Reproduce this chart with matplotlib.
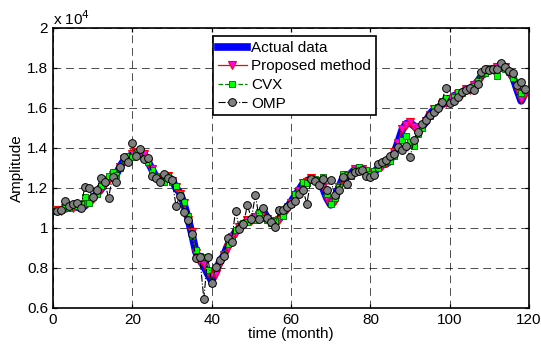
import numpy as np
import matplotlib
matplotlib.use('Agg')
import matplotlib.pyplot as plt
from matplotlib.ticker import FuncFormatter

plt.rcParams['font.family'] = ['Liberation Sans', 'DejaVu Sans']

months = np.arange(1, 120)

actual = [10850, 10880, 10950, 11000, 11050, 11050, 10980, 11100, 11300, 11500,
          11700, 11900, 12200, 12450, 12600, 12700, 13100, 13400, 13550, 13650,
          13750, 13800, 13650, 13300, 12900, 12550, 12450, 12450, 12550, 12400,
          12000, 11750, 11200, 10500, 9700, 8800, 8400, 8100, 7700, 7350,
          7800, 8300, 8600, 9100, 9500, 9800, 10000, 10200, 10350, 10400,
          10500, 10700, 10850, 10500, 10300, 10250, 10450, 10700, 11000, 11300,
          11600, 11900, 12200, 12350, 12450, 12400, 12300, 12000, 11500, 11150,
          11400, 12000, 12450, 12600, 12700, 12900, 13000, 12900, 12800, 12700,
          12800, 13000, 13150, 13200, 13400, 13750, 14300, 14900, 15200, 15250,
          15100, 14900, 15050, 15300, 15700, 15900, 16000, 16150, 16300, 16400,
          16600, 16650, 16750, 16900, 16950, 17100, 17300, 17600, 17800, 17900,
          17950, 18000, 18150, 18000, 17800, 17500, 16900, 16350, 16750]

proposed = [10900, 10850, 11000, 11050, 11000, 11100, 11050, 11200, 11350, 11450,
            11800, 11950, 12150, 12400, 12650, 12750, 13050, 13450, 13500, 13700,
            13800, 13750, 13700, 13250, 12950, 12500, 12500, 12400, 12600, 12350,
            12050, 11700, 11250, 10400, 9800, 8750, 8300, 8200, 7800, 7600,
            7700, 8200, 8650, 9000, 9550, 9750, 10050, 10150, 10400, 10350,
            10550, 10650, 10800, 10450, 10350, 10200, 10400, 10750, 10950, 11250,
            11650, 11850, 12250, 12300, 12500, 12350, 12350, 12050, 11450, 11250,
            11350, 12050, 12400, 12650, 12650, 12950, 12950, 12950, 12750, 12750,
            12750, 13050, 13100, 13250, 13350, 13800, 14250, 14950, 15150, 15300,
            15050, 14950, 15000, 15350, 15650, 15950, 15950, 16200, 16250, 16450,
            16550, 16700, 16700, 16950, 16900, 17150, 17250, 17650, 17750, 17950,
            17900, 18050, 18100, 18050, 17750, 17550, 16950, 16450, 16700]

cvx = [10850, 10900, 11050, 11000, 11150, 11100, 11200, 11550, 11250, 11600,
       11700, 12100, 12300, 12600, 12800, 12650, 13000, 13450, 13600, 13550,
       13800, 13900, 13500, 13300, 12900, 12600, 12400, 12300, 12600, 12300,
       12100, 11650, 11300, 10600, 9600, 8900, 8600, 8550, 7900, 7250,
       8000, 8400, 8650, 9200, 9400, 9900, 10000, 10250, 10300, 10450,
       10400, 10800, 10500, 10400, 10250, 10350, 10900, 10600, 11100, 11200,
       11700, 11800, 12300, 12250, 12500, 12450, 12400, 12550, 11700, 11200,
       11500, 12050, 12700, 12650, 12600, 12900, 13050, 12850, 12900, 12700,
       12850, 13000, 13200, 13300, 13350, 13600, 14000, 14400, 14600, 14300,
       14100, 14700, 15000, 15400, 15600, 16000, 16050, 16350, 16500, 16300,
       16550, 16800, 16750, 16900, 17000, 17100, 17350, 17700, 17750, 17950,
       18000, 17600, 18000, 17950, 17800, 17500, 17200, 16750, 16900]

omp = [10850, 10900, 11350, 11100, 11200, 11250, 11000, 12050, 12000, 11550,
       11900, 12500, 12300, 11500, 12550, 12300, 13050, 13550, 13300, 14250,
       13600, 13950, 13450, 13500, 12600, 12500, 12300, 12700, 12500, 12400,
       11100, 11600, 10800, 10400, 9700, 8500, 8550, 6450, 8550, 7250,
       8050, 8400, 8600, 9500, 9300, 10850, 9950, 10200, 11150, 10450,
       11650, 10450, 11000, 10500, 10300, 10050, 10900, 10900, 11050, 11200,
       11350, 11700, 11900, 11200, 12450, 12350, 12150, 12450, 11900, 12400,
       11650, 11900, 12550, 12200, 12650, 12800, 12850, 12900, 12600, 12550,
       12650, 13200, 13300, 13400, 13600, 13700, 14050, 13900, 14100, 13550,
       14400, 14800, 15200, 15400, 15650, 15800, 16000, 16300, 17000, 16250,
       16350, 16550, 16800, 16900, 17000, 16900, 17200, 17800, 17950, 17900,
       17950, 17950, 18250, 18050, 17850, 17750, 17150, 17300, 16950]

fig = plt.figure(figsize=(5.41, 3.44), dpi=100)
ax = fig.add_axes([0.098, 0.105, 0.880, 0.814])

ax.plot(months, actual, color='blue', lw=5.5, label='Actual data', zorder=2)
ax.plot(months, proposed, 'r-v', lw=0.9, ms=5.5, mfc='magenta', mec='red',
        mew=0.8, label='Proposed method', zorder=3)
ax.plot(months, cvx, '--s', color='green', lw=0.9, ms=4.8, mfc='lime',
        mec='darkgreen', mew=0.6, label='CVX', zorder=4)
ax.plot(months, omp, '-.o', color='black', lw=0.8, ms=5.6, mfc='gray',
        mec='black', mew=0.7, label='OMP', zorder=5)

ax.set_xlim(0, 120)
ax.set_ylim(6000, 20000)
ax.set_xticks(np.arange(0, 121, 20))
ax.set_yticks(np.arange(6000, 20001, 2000))
ax.yaxis.set_major_formatter(FuncFormatter(lambda v, _: '%g' % (v / 1e4)))
ax.tick_params(direction='in', labelsize=11, top=True, right=True, length=3,
               width=0.9)
ax.grid(True, color='black', ls=(0, (8, 5)), lw=0.7, alpha=0.7)
ax.set_xlabel('time (month)', fontsize=11, labelpad=0)
ax.set_ylabel('Amplitude', fontsize=11, labelpad=2)
ax.text(0.0, 1.0, r'x 10$^4$', transform=ax.transAxes, fontsize=11,
        va='bottom', ha='left')
for s in ax.spines.values():
    s.set_linewidth(1.2)

leg = ax.legend(loc='upper left', bbox_to_anchor=(0.336, 0.97), fontsize=11,
                handlelength=1.9, borderpad=0.3, labelspacing=0.3,
                handletextpad=0.3, borderaxespad=0, fancybox=False,
                framealpha=1, edgecolor='black')
leg.get_frame().set_linewidth(1.2)

fig.savefig('out.png', dpi=100)
